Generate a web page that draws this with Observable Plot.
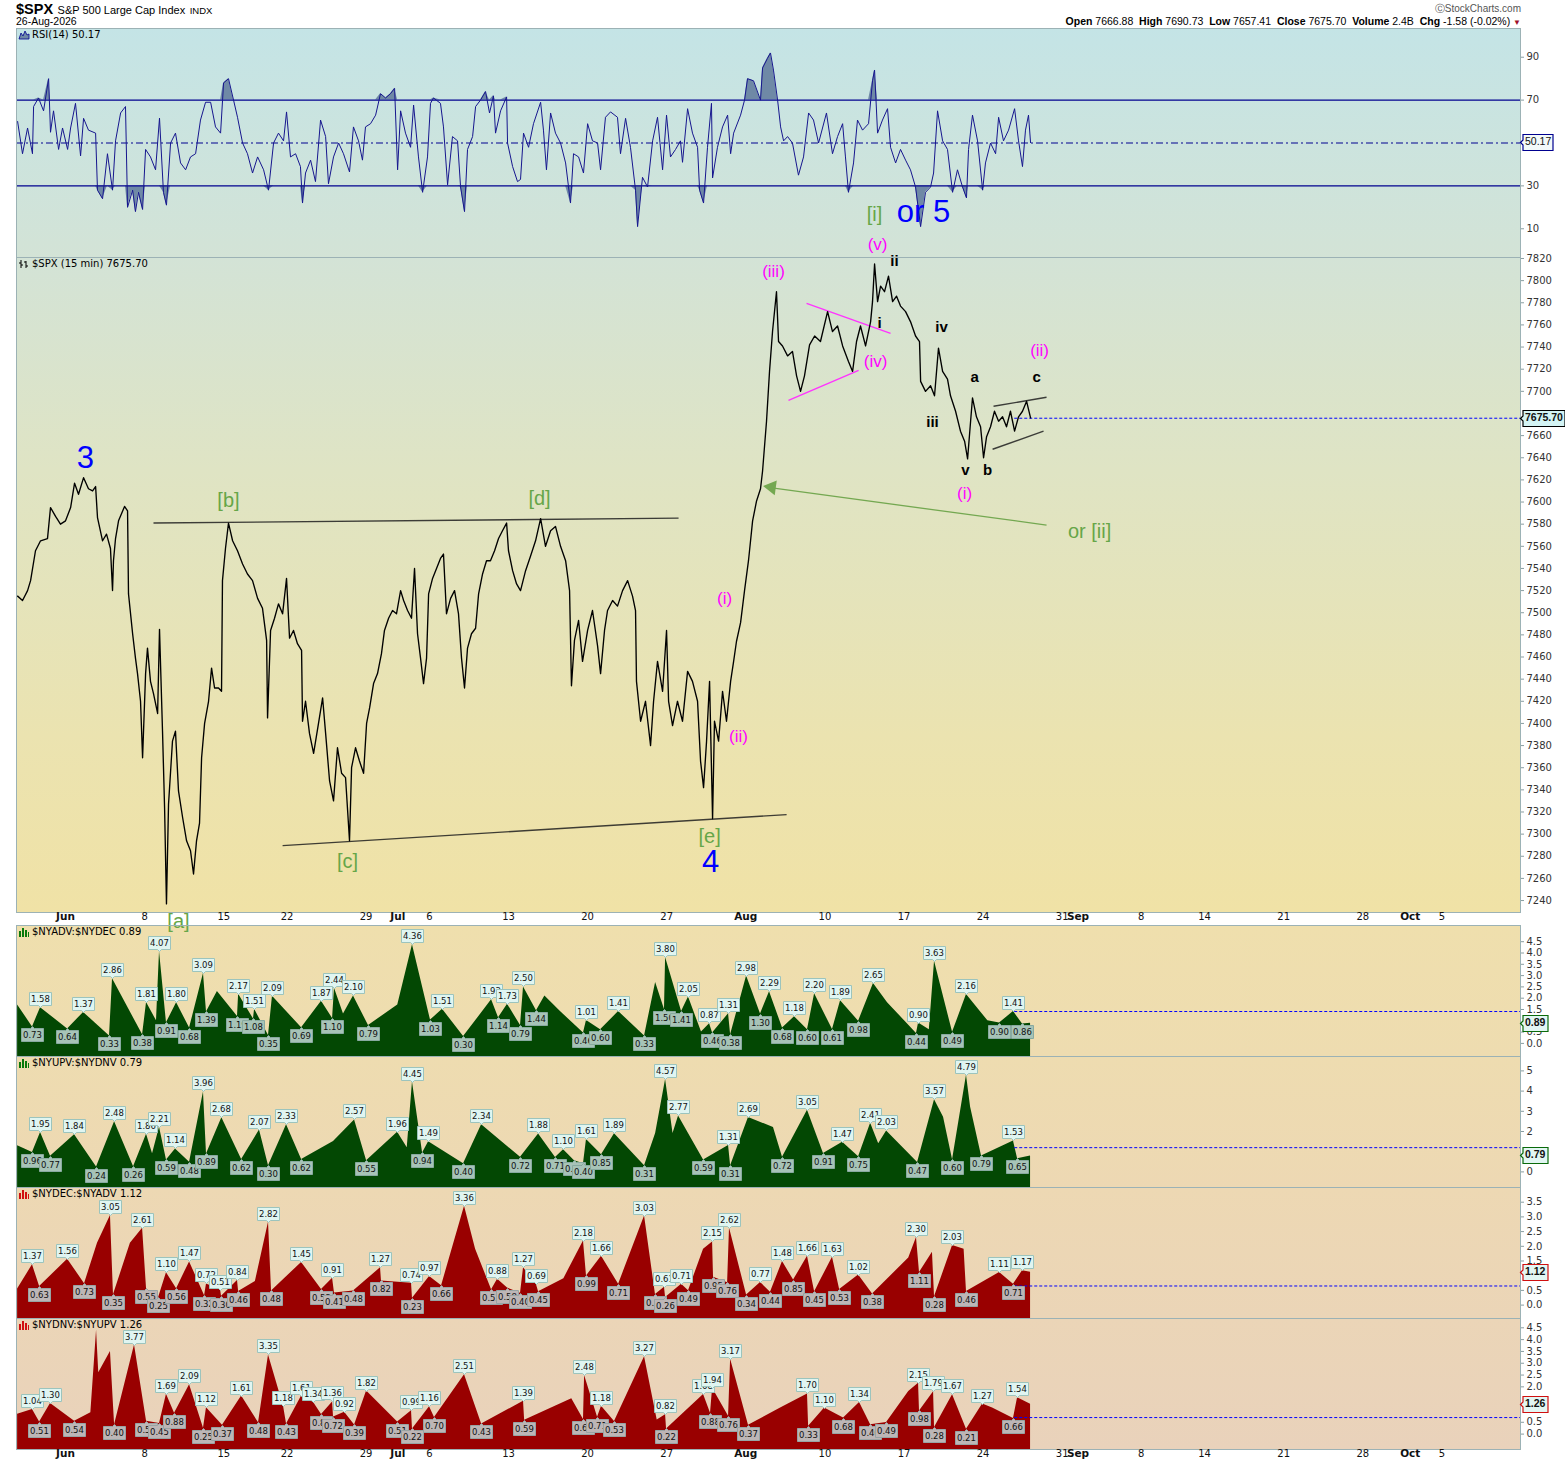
<!DOCTYPE html>
<html>
<head>
<meta charset="utf-8">
<script src="https://cdn.jsdelivr.net/npm/d3@7"></script>
<script src="https://cdn.jsdelivr.net/npm/@observablehq/plot@0.6"></script>
<style>
html,body{margin:0;padding:0;background:#fff;}
#root{position:relative;width:1565px;height:1464px;overflow:hidden;font-family:"Liberation Sans",Arial,sans-serif;color:#000;}
#root svg{overflow:visible;}
.ttl{position:absolute;font-family:"DejaVu Sans",Verdana,sans-serif;font-size:10px;white-space:nowrap;color:#000;display:flex;align-items:center;gap:3px;}
g[aria-label="tip"] text{fill:#111;}
</style>
</head>
<body>
<div id="root"></div>
<script>
// ===================== DATA =====================
// time unit: trading-day index (0 = 1 Jun 2026 open)
const tickMonths = [[0,"Jun"],[21,"Jul"],[43,"Aug"],[64,"Sep"],[85,"Oct"]];
const tickDays = [[5,"8"],[10,"15"],[14,"22"],[19,"29"],[23,"6"],[28,"13"],[33,"20"],[38,"27"],[48,"10"],[53,"17"],[58,"24"],[63,"31"],[68,"8"],[72,"14"],[77,"21"],[82,"28"],[87,"5"]];

const rsiTickLabels = [90,70,30,10];
const rsiBands = [70,30];
const rsiMid = [50];
const rsiLast = 50.17;

const priceTicks = [7240,7260,7280,7300,7320,7340,7360,7380,7400,7420,7440,7460,7480,7500,7520,7540,7560,7580,7600,7620,7640,7660,7680,7700,7720,7740,7760,7780,7800,7820];
const priceLast = 7675.70;

const adTicks = [0,0.5,1,1.5,2,2.5,3,3.5,4,4.5];
const udTicks = [0,1,2,3,4,5];
const daTicks = [0,0.5,1,1.5,2,2.5,3,3.5];
const duTicks = [0,0.5,1,1.5,2,2.5,3,3.5,4,4.5];
// tick labels hidden behind the last-value markers in the reference
const coveredTicks = {price:[7680], ad:[1], ud:[1], da:[1], du:[1,1.5]};
const lastValues = {ad:0.89, ud:0.79, da:1.12, du:1.26};
const dashLevels = {ad:1.41, ud:1.2, da:0.65, du:0.70};

const rsiSeries = [[-3.03,60],[-2.72,45],[-2.40,57],[-2.09,45],[-2.02,67],[-1.71,71],[-1.39,65],[-1.07,80],[-0.95,55],[-0.76,65],[-0.44,47],[-0.19,57],[0.13,47],[0.32,57],[0.63,68.5],[0.95,44],[1.14,61.5],[1.45,56],[1.90,54.6],[2.02,28],[2.34,24],[2.65,45],[2.97,28],[3.16,51],[3.48,64],[3.79,67],[3.92,20],[4.24,28],[4.42,18],[4.61,27],[4.87,19],[5.06,47],[5.37,43.5],[5.69,37.5],[5.94,61.6],[6.19,27],[6.38,21],[6.64,50],[6.95,54.6],[7.27,40.7],[7.59,37.5],[7.90,43.5],[8.22,45],[8.53,60.7],[8.85,69],[9.17,69],[9.48,57.5],[9.80,54.6],[9.99,78],[10.30,80],[10.62,70],[10.87,62],[11.19,50],[11.50,45],[11.82,36],[12.14,43.5],[12.52,37.5],[12.83,28],[13.15,50],[13.46,54.6],[13.78,51],[13.97,64.5],[14.22,43.5],[14.54,45],[14.85,39],[14.98,22],[15.17,36],[15.49,42],[15.80,32],[16.12,60.7],[16.44,53],[16.62,31],[16.94,43.5],[17.26,50],[17.57,45],[17.95,36.5],[18.20,57.5],[18.52,51],[18.77,42],[18.96,57.5],[19.28,59],[19.60,63],[19.91,73],[20.23,71],[20.54,73],[20.80,75.5],[20.99,37.5],[21.18,65],[21.49,54.6],[21.81,48],[22.00,67.7],[22.31,43.5],[22.57,27],[22.88,43.5],[23.07,68.5],[23.26,71],[23.70,68.5],[23.89,57.5],[24.15,30.5],[24.46,53],[24.78,51],[24.97,29.5],[25.22,18],[25.41,47],[25.73,53],[25.92,67],[26.23,70],[26.55,74],[26.80,64],[27.05,72],[27.18,54.6],[27.50,65],[27.88,71.5],[27.94,50],[28.26,39],[28.57,32],[28.76,33],[28.95,54.6],[29.27,48],[29.58,59],[30.03,69],[30.21,56],[30.40,37.5],[30.66,64],[30.97,54.6],[31.29,50],[31.61,40.7],[31.92,22],[32.11,45],[32.43,43.5],[32.74,36],[33.00,59],[33.31,51],[33.63,50],[33.82,37.5],[34.13,62],[34.45,64.5],[34.89,62],[35.08,45],[35.40,61.5],[35.71,48],[36.03,28],[36.16,11],[36.47,34],[36.79,29.5],[37.11,51],[37.42,62],[37.74,37.5],[37.99,63],[38.24,43.5],[38.56,47],[38.87,51],[39.00,41],[39.32,66],[39.63,54.6],[39.95,48],[40.08,28],[40.33,22],[40.58,48],[40.83,68.5],[40.90,33.7],[41.21,48],[41.53,57.5],[41.85,63],[42.04,45],[42.23,54.6],[42.67,63],[42.92,70],[43.11,80],[43.49,79],[43.93,70],[44.06,85],[44.37,89.5],[44.56,92],[44.75,84],[45.01,70],[45.20,57.5],[45.39,51],[45.64,53],[45.95,50],[46.33,35],[46.65,43.5],[46.97,64],[47.28,60.7],[47.60,50],[48.10,64],[48.48,45],[48.80,53],[49.12,59],[49.30,43.5],[49.49,27],[49.81,40.7],[50.06,60.7],[50.38,56],[50.76,59],[51.01,79],[51.14,84],[51.33,54.6],[51.64,60.7],[51.96,66],[52.15,48],[52.47,40.7],[52.78,47],[53.10,42],[53.41,37.5],[53.73,29.5],[54.05,11],[54.36,27],[54.68,29.5],[54.87,36],[55.12,65],[55.44,51],[55.75,47],[56.07,27],[56.38,37.5],[56.70,29.5],[56.95,24.4],[57.08,47],[57.33,63],[57.65,51],[57.97,28],[58.15,40.7],[58.47,50],[58.79,45],[58.98,62],[59.29,51],[59.61,56],[59.99,66],[60.24,51],[60.49,39],[60.68,56],[60.87,63],[61.00,50.17]];

const priceSeries = [[-3.03,7515],[-2.72,7511],[-2.40,7520],[-2.21,7529],[-1.90,7556],[-1.58,7565],[-1.14,7567],[-0.95,7595],[-0.63,7587],[-0.32,7580],[0,7583],[0.32,7595],[0.57,7617],[0.82,7607],[1.14,7622],[1.45,7612],[1.71,7610],[1.90,7614],[2.02,7586],[2.34,7565],[2.59,7571],[2.84,7558],[2.97,7520],[3.03,7547],[3.16,7567],[3.35,7583],[3.73,7596],[3.92,7592],[3.98,7517],[4.24,7481],[4.42,7459],[4.55,7445],[4.74,7420],[4.87,7369],[5.06,7445],[5.18,7468],[5.37,7438],[5.56,7427],[5.82,7409],[5.94,7485],[6.13,7393],[6.26,7324],[6.38,7237],[6.51,7327],[6.76,7384],[6.95,7393],[7.14,7339],[7.40,7315],[7.65,7294],[7.90,7285],[8.09,7264],[8.28,7294],[8.47,7310],[8.60,7369],[8.79,7400],[9.04,7420],[9.23,7450],[9.42,7432],[9.67,7432],[9.86,7429],[9.92,7529],[10.11,7558],[10.30,7581],[10.56,7565],[10.87,7556],[11.19,7544],[11.50,7535],[11.82,7529],[12.14,7513],[12.45,7504],[12.71,7475],[12.77,7405],[12.96,7484],[13.21,7495],[13.46,7508],[13.72,7499],[13.97,7531],[14.16,7477],[14.41,7484],[14.66,7472],[14.92,7466],[14.98,7402],[15.17,7420],[15.42,7391],[15.68,7373],[15.99,7400],[16.25,7423],[16.44,7391],[16.69,7348],[16.94,7330],[17.19,7378],[17.45,7355],[17.70,7351],[17.95,7294],[18.08,7360],[18.33,7378],[18.58,7366],[18.84,7355],[19.03,7400],[19.22,7414],[19.47,7436],[19.72,7445],[19.97,7463],[20.16,7484],[20.42,7495],[20.67,7502],[20.92,7499],[21.18,7520],[21.37,7511],[21.62,7502],[21.87,7495],[22.06,7540],[22.25,7481],[22.44,7459],[22.63,7436],[22.82,7459],[22.95,7517],[23.20,7531],[23.45,7540],[23.70,7549],[23.89,7553],[24.08,7499],[24.34,7513],[24.59,7520],[24.84,7499],[25.03,7459],[25.22,7432],[25.41,7468],[25.66,7481],[25.92,7486],[26.11,7517],[26.36,7535],[26.61,7547],[26.86,7547],[27.12,7556],[27.37,7567],[27.62,7574],[27.88,7581],[28.00,7556],[28.26,7538],[28.51,7526],[28.76,7520],[29.08,7538],[29.39,7551],[29.71,7565],[30.03,7585],[30.34,7560],[30.66,7574],[30.97,7578],[31.29,7560],[31.61,7547],[31.86,7520],[31.98,7434],[32.17,7475],[32.43,7493],[32.68,7456],[33.00,7484],[33.31,7502],[33.63,7470],[33.82,7445],[34.07,7484],[34.26,7502],[34.58,7511],[34.89,7506],[35.21,7520],[35.53,7529],[35.84,7515],[36.03,7502],[36.09,7438],[36.35,7402],[36.66,7420],[36.98,7380],[37.17,7420],[37.42,7456],[37.74,7429],[37.99,7484],[38.12,7420],[38.37,7398],[38.68,7420],[39.00,7402],[39.32,7447],[39.63,7438],[39.95,7420],[40.14,7366],[40.33,7342],[40.52,7384],[40.71,7438],[40.90,7314],[41.02,7402],[41.28,7384],[41.53,7429],[41.78,7402],[42.04,7438],[42.23,7456],[42.41,7474],[42.67,7491],[42.92,7520],[43.17,7547],[43.43,7583],[43.68,7601],[43.93,7612],[44.06,7628],[44.31,7673],[44.50,7718],[44.69,7754],[44.94,7790],[45.07,7745],[45.32,7741],[45.64,7732],[45.95,7736],[46.21,7714],[46.46,7700],[46.71,7714],[47.03,7742],[47.35,7750],[47.72,7745],[48.17,7772],[48.48,7754],[48.80,7759],[49.12,7741],[49.49,7727],[49.75,7718],[50.00,7745],[50.25,7759],[50.57,7741],[50.89,7763],[51.01,7781],[51.14,7815],[51.33,7781],[51.52,7795],[51.77,7790],[52.02,7804],[52.28,7781],[52.53,7786],[52.78,7777],[53.10,7772],[53.41,7763],[53.73,7750],[53.98,7745],[54.05,7709],[54.36,7700],[54.68,7705],[54.93,7696],[55.18,7739],[55.44,7718],[55.75,7711],[55.94,7696],[56.26,7682],[56.57,7664],[56.83,7655],[57.02,7639],[57.21,7673],[57.33,7694],[57.58,7677],[57.84,7668],[58.03,7640],[58.22,7659],[58.47,7668],[58.72,7682],[58.98,7673],[59.23,7677],[59.48,7668],[59.73,7682],[59.99,7664],[60.24,7677],[60.49,7682],[60.75,7691],[61.00,7676]];

// breadth series: [t, value, kind]  kind 1 = labelled peak, -1 = labelled trough, 0 = plain point
const adSeries = [[-3.03,1.70,0],[-2.09,0.73,-1],[-1.58,1.58,1],[0.13,0.64,-1],[1.14,1.37,1],[2.78,0.33,-1],[2.97,2.86,1],[4.87,0.38,-1],[5.12,1.81,1],[5.75,1.0,0],[5.94,4.07,1],[6.38,0.91,-1],[7.02,1.80,1],[7.84,0.68,-1],[8.72,3.09,1],[8.91,1.39,-1],[9.6,2.3,0],[10.87,1.19,-1],[10.94,2.17,1],[11.88,1.08,-1],[11.95,1.51,1],[12.83,0.35,-1],[13.08,2.09,1],[14.92,0.69,-1],[16.18,1.87,1],[16.88,1.10,-1],[17.00,2.44,1],[17.57,1.3,0],[18.20,2.10,1],[19.15,0.79,-1],[21.0,1.7,0],[21.93,4.36,1],[23.07,1.03,-1],[23.83,1.51,1],[25.16,0.30,-1],[26.93,1.93,1],[27.37,1.14,-1],[27.94,1.73,1],[28.76,0.79,-1],[28.95,2.50,1],[29.77,1.44,-1],[30.3,2.1,0],[31.3,1.4,0],[32.74,0.46,-1],[32.93,1.01,1],[33.82,0.60,-1],[34.96,1.41,1],[36.60,0.33,-1],[37.3,2.7,0],[37.86,1.50,-1],[37.93,3.80,1],[38.94,1.41,-1],[39.38,2.05,1],[40.2,0.5,0],[40.71,0.87,1],[40.90,0.46,-1],[41.91,1.31,1],[42.04,0.38,-1],[43.05,2.98,1],[43.93,1.30,-1],[44.50,2.29,1],[45.32,0.68,-1],[46.08,1.18,1],[46.90,0.60,-1],[47.35,2.20,1],[48.48,0.61,-1],[48.99,1.89,1],[50.13,0.98,-1],[51.07,2.65,1],[51.96,1.8,0],[53.79,0.44,-1],[53.92,0.90,1],[54.6,0.6,0],[54.93,3.63,1],[56.07,0.49,-1],[56.95,2.16,1],[58.3,1.0,0],[59.04,0.90,-1],[59.92,1.41,1],[60.49,0.86,-1],[61.00,0.89,0]];

const udSeries = [[-3.03,1.3,0],[-2.09,0.96,-1],[-1.58,1.95,1],[-0.95,0.77,-1],[0.57,1.84,1],[1.96,0.24,-1],[3.10,2.48,1],[4.30,0.26,-1],[5.12,1.86,1],[5.5,0.9,0],[5.94,2.21,1],[6.38,0.59,-1],[6.95,1.14,1],[7.84,0.48,-1],[8.72,3.96,1],[8.91,0.89,-1],[9.88,2.68,1],[11.13,0.62,-1],[12.26,2.07,1],[12.83,0.30,-1],[13.97,2.33,1],[14.92,0.62,-1],[16.94,1.5,0],[18.27,2.57,1],[19.03,0.55,-1],[20.99,1.96,1],[21.6,1.2,0],[21.93,4.45,1],[22.57,0.94,-1],[22.95,1.49,1],[25.16,0.40,-1],[26.30,2.34,1],[28.76,0.72,-1],[29.90,1.88,1],[30.97,0.71,-1],[31.48,1.10,1],[32.17,0.55,-1],[32.74,0.40,-1],[32.93,1.61,1],[33.88,0.85,-1],[34.70,1.89,1],[36.60,0.31,-1],[37.3,1.9,0],[37.93,4.57,1],[38.4,1.9,0],[38.75,2.77,1],[40.33,0.59,-1],[41.91,1.31,1],[42.04,0.31,-1],[43.17,2.69,1],[44.75,2.2,0],[45.32,0.72,-1],[46.90,3.05,1],[47.91,0.91,-1],[49.12,1.47,1],[50.13,0.75,-1],[50.89,2.41,1],[51.4,1.4,0],[51.90,2.03,1],[53.86,0.47,-1],[54.93,3.57,1],[55.5,2.7,0],[56.07,0.60,-1],[56.95,4.79,1],[57.21,3.2,0],[57.90,0.79,-1],[59.92,1.53,1],[60.18,0.65,-1],[61.00,0.79,0]];

const daSeries = [[-3.03,0.55,0],[-2.09,1.37,1],[-1.64,0.63,-1],[0.13,1.56,1],[1.20,0.73,-1],[2.02,2.1,0],[2.84,3.05,1],[3.03,0.35,-1],[4.1,2.1,0],[4.87,2.61,1],[5.12,0.55,-1],[5.88,0.25,-1],[6.38,1.10,1],[7.02,0.56,-1],[7.84,1.47,1],[8.79,0.32,-1],[8.91,0.72,1],[9.80,0.51,1],[9.86,0.30,-1],[10.87,0.84,1],[10.94,0.46,-1],[12.0,0.8,0],[12.83,2.82,1],[13.02,0.48,-1],[14.92,1.45,1],[16.18,0.53,-1],[16.88,0.91,1],[17.00,0.41,-1],[18.20,0.48,-1],[19.91,1.27,1],[19.97,0.82,-1],[21.87,0.74,1],[21.93,0.23,-1],[23.01,0.97,1],[23.77,0.66,-1],[25.22,3.36,1],[25.92,1.9,0],[26.93,0.52,-1],[27.31,0.88,1],[27.94,0.58,-1],[28.76,0.40,-1],[28.95,1.27,1],[29.77,0.69,1],[29.90,0.45,-1],[31.5,0.9,0],[32.74,2.18,1],[32.93,0.99,-1],[33.88,1.66,1],[34.96,0.71,-1],[36.60,3.03,1],[37.29,0.36,-1],[37.86,0.61,1],[37.93,0.26,-1],[38.94,0.71,1],[39.38,0.49,-1],[40.33,1.9,0],[40.90,2.15,1],[40.96,0.95,-1],[41.85,0.76,-1],[41.97,2.62,1],[43.05,0.34,-1],[43.93,0.77,1],[44.56,0.44,-1],[45.32,1.48,1],[46.02,0.85,-1],[46.90,1.66,1],[47.35,0.45,-1],[48.48,1.63,1],[48.93,0.53,-1],[50.13,1.02,1],[51.01,0.38,-1],[53.3,1.6,0],[53.79,2.30,1],[53.98,1.11,-1],[54.8,1.8,0],[54.93,0.28,-1],[56.07,2.03,1],[56.8,1.9,0],[56.95,0.46,-1],[59.04,1.11,1],[59.92,0.71,-1],[60.49,1.17,1],[61.00,1.12,0]];

const duSeries = [[-3.03,0.84,0],[-2.09,1.04,1],[-1.64,0.51,-1],[-0.95,1.30,1],[0.57,0.54,-1],[1.6,0.9,0],[1.96,4.4,0],[2.1,2.6,0],[2.84,3.5,0],[3.10,0.40,-1],[4.36,3.77,1],[5.12,0.54,-1],[5.94,0.45,-1],[6.38,1.69,1],[6.89,0.88,-1],[7.84,2.09,1],[8.72,0.25,-1],[8.91,1.12,1],[9.92,0.37,-1],[11.13,1.61,1],[12.20,0.48,-1],[12.83,3.35,1],[13.78,1.18,1],[13.97,0.43,-1],[14.92,1.61,1],[15.68,1.34,1],[16.18,0.83,-1],[16.88,1.36,1],[16.94,0.72,-1],[17.64,0.92,1],[18.27,0.39,-1],[19.03,1.82,1],[20.99,0.51,-1],[21.87,0.99,1],[21.93,0.22,-1],[23.01,1.16,1],[23.32,0.70,-1],[25.22,2.51,1],[26.30,0.43,-1],[28.95,1.39,1],[29.02,0.59,-1],[32.0,1.5,0],[32.74,0.62,-1],[32.81,2.48,1],[33.63,0.71,-1],[33.88,1.18,1],[34.70,0.53,-1],[36.60,3.27,1],[37.4,0.6,0],[37.93,0.82,1],[37.99,0.22,-1],[40.33,1.68,1],[40.77,0.88,-1],[40.90,1.94,1],[41.91,0.76,-1],[42.04,3.17,1],[43.17,0.37,-1],[45.2,1.1,0],[46.90,1.70,1],[46.97,0.33,-1],[47.98,1.10,1],[49.18,0.68,-1],[50.19,1.34,1],[50.89,0.40,-1],[51.90,0.49,-1],[53.3,1.8,0],[53.92,2.15,1],[53.98,0.98,-1],[54.87,1.79,1],[54.93,0.28,-1],[56.07,1.67,1],[56.95,0.21,-1],[57.97,1.27,1],[58.6,1.1,0],[59.92,0.66,-1],[60.18,1.54,1],[61.00,1.26,0]];

// wave annotations: [t, price, text]
const blueLabels = [[1.26,7640,"3"],[40.77,7275,"4"],[54.23,7862,"or 5"]];
const greenLabels = [[10.30,7601,"[b]"],[29.96,7603.5,"[d]"],[17.83,7275,"[c]"],[7.14,7221,"[a]"],[40.71,7298,"[e]"],[51.14,7860,"[i]"],[64.73,7573,"or [ii]"]];
const magentaLabels = [[41.66,7513,"(i)"],[42.54,7388,"(ii)"],[44.75,7808,"(iii)"],[51.20,7727,"(iv)"],[51.33,7833,"(v)"],[56.83,7608,"(i)"],[61.57,7737,"(ii)"]];
const blackLabels = [[51.45,7762,"i"],[52.40,7818,"ii"],[54.80,7672,"iii"],[55.37,7758,"iv"],[56.89,7629,"v"],[57.46,7713,"a"],[58.28,7629,"b"],[61.38,7713,"c"]];
// trend lines: [t1, p1, t2, p2]
const blackLines = [[5.56,7581,38.75,7585.5],[13.72,7289.6,45.58,7317.6],[58.66,7686.5,62.01,7694.6],[58.60,7647.7,61.82,7664.0]];
const magentaLines = [[46.84,7779.4,52.15,7752.3],[45.70,7691.9,50.13,7719.0]];
const greenArrow = [[62.01,7579.2,44.31,7613.4]];

// ===================== RENDER =====================
const root = document.getElementById("root");
const xDom = [-3.10, 91.97];
const dashStartT = 60.0;
const AX = "DejaVu Sans, Verdana, sans-serif";
const SANS = "Liberation Sans, Arial, sans-serif";
const FRAME = "#9cb2b5";

function addDiv(html, css){ const d=document.createElement("div"); d.innerHTML=html; d.style.cssText=css; root.appendChild(d); return d; }
function place(svg, top){ svg.style.position="absolute"; svg.style.left="0px"; svg.style.top=top+"px"; root.appendChild(svg); }
function basePlot(h, mb, yDom, marks){
  return Plot.plot({width:1565, height:h+mb, marginLeft:16, marginRight:45, marginTop:0, marginBottom:mb,
    x:{domain:xDom, axis:null}, y:{domain:yDom, axis:null},
    style:{background:"transparent", overflow:"visible", color:"#111", fontFamily:AX, fontSize:"10px"},
    marks});
}
function marker(text, value, fill, stroke, bold){
  return Plot.tip([value], {x: () => xDom[1], y: d => d, title: () => text, anchor:"left", pointerSize:5, textPadding:2,
    fontSize:10.5, fontWeight: bold ? "bold" : "normal", fontFamily:SANS, fill, stroke, strokeWidth:1.2, pathFilter:"none"});
}
function yAxis(ticks, fmt){
  return Plot.axisY({anchor:"right", ticks, tickSize:3, tickPadding:3, fontSize:10, fill:"#333", stroke:"#8a9ea2", tickFormat:fmt, label:null});
}
function xAxisMarks(){
  return [
    Plot.text(tickMonths, {x:d=>d[0], text:d=>d[1], frameAnchor:"bottom", dy:7, fontWeight:"bold", fontSize:10.5, fontFamily:AX, fill:"#111"}),
    Plot.text(tickDays, {x:d=>d[0], text:d=>d[1], frameAnchor:"bottom", dy:7, fontSize:10, fontFamily:AX, fill:"#111"})
  ];
}

// backgrounds
addDiv("", "position:absolute;left:16px;top:28px;width:1504px;height:884px;background:linear-gradient(to bottom,#c4e4e6 0%,#d3e3d6 26%,#dfe4c4 50%,#ebe3b0 80%,#f0e2a6 100%);");
addDiv("", "position:absolute;left:16px;top:925px;width:1504px;height:524px;background:linear-gradient(to bottom,#efdfad 0%,#eedcb0 25%,#edd8b3 50%,#ebd5b7 75%,#e9d2bb 100%);");

// header
addDiv('<b style="font-size:14.5px">$SPX</b> <span style="font-size:11px">S&amp;P 500 Large Cap Index</span> <span style="font-size:9.5px">INDX</span>', "position:absolute;left:16px;top:0px;white-space:nowrap;");
addDiv("26-Aug-2026", "position:absolute;left:16px;top:15px;font-size:10.5px;white-space:nowrap;");
addDiv("&#9400;StockCharts.com", "position:absolute;right:44px;top:2px;font-size:10px;color:#555;white-space:nowrap;");
addDiv('<b>Open</b> 7666.88&nbsp; <b>High</b> 7690.73&nbsp; <b>Low</b> 7657.41&nbsp; <b>Close</b> 7675.70&nbsp; <b>Volume</b> 2.4B&nbsp; <b>Chg</b> -1.58 (-0.02%) <span style="color:#a0102a;font-size:8px">&#9660;</span>', "position:absolute;right:44px;top:15px;font-size:10.5px;white-space:nowrap;");

// RSI panel
const rsiObj = rsiSeries.map(([t,v]) => ({t, v}));
place(basePlot(229, 0, [-3.4, 103.4], [
  Plot.areaY(rsiObj, {x:"t", y1:70, y2:d=>Math.max(70,d.v), fill:"#6f89a6"}),
  Plot.areaY(rsiObj, {x:"t", y1:30, y2:d=>Math.min(30,d.v), fill:"#6f89a6"}),
  Plot.ruleY(rsiBands, {stroke:"#00008f", strokeWidth:1.3}),
  Plot.ruleY(rsiMid, {stroke:"#00008f", strokeWidth:1, strokeDasharray:"7,3,2,3"}),
  Plot.line(rsiObj, {x:"t", y:"v", stroke:"#16168e", strokeWidth:1}),
  Plot.frame({stroke:FRAME}),
  yAxis(rsiTickLabels, d => String(d)),
  marker(rsiLast.toFixed(2), rsiLast, "#f2f9f9", "#00008f", false)
]), 28);

// Price panel
const priceObj = priceSeries.map(([t,p]) => ({t, p}));
const L = () => ({x1:d=>d[0], y1:d=>d[1], x2:d=>d[2], y2:d=>d[3]});
const T = {x:d=>d[0], y:d=>d[1], text:d=>d[2], fontFamily:SANS};
place(basePlot(655, 13, [7229.2, 7820.9], [
  Plot.ruleY([priceLast], {y:d=>d, x1:dashStartT, x2:xDom[1], stroke:"#0000ff", strokeDasharray:"3,2"}),
  Plot.link(blackLines, {...L(), stroke:"#1e1e1e", strokeWidth:1.4, strokeOpacity:0.85}),
  Plot.link(magentaLines, {...L(), stroke:"#ff33ff", strokeWidth:1.4}),
  Plot.link(greenArrow, {...L(), stroke:"#74a851", strokeWidth:1.3}),
  Plot.dot(greenArrow, {x:d=>d[2], y:d=>d[3], symbol:"triangle", r:5.5, fill:"#74a851", rotate:-82, dx:5}),
  Plot.line(priceObj, {x:"t", y:"p", stroke:"#000", strokeWidth:1.35}),
  Plot.text(blueLabels, {...T, fill:"#0000ff", fontSize:31}),
  Plot.text(greenLabels, {...T, fill:"#66a648", fontSize:20}),
  Plot.text(magentaLabels, {...T, fill:"#ff00ff", fontSize:17}),
  Plot.text(blackLabels, {...T, fill:"#000", fontSize:15, fontWeight:"bold"}),
  Plot.frame({stroke:FRAME}),
  yAxis(priceTicks.filter(t => !coveredTicks.price.includes(t)), d => String(d)),
  marker(priceLast.toFixed(2), priceLast, "#d4f4f4", "#000", true),
  ...xAxisMarks()
]), 257);

// Breadth panels
function breadth(series, yDom, ticks, covered, fmt, areaFill, lowFill, lowStroke, last, lastStroke, dash, mb){
  const peaks = series.filter(d => d[2] === 1);
  const lows = series.filter(d => d[2] === -1);
  const tipBase = {x:d=>d[0], y:d=>d[1], title:d=>d[1].toFixed(2), pointerSize:4, textPadding:1.5, fontSize:8.5, fontFamily:AX, pathFilter:"none", strokeWidth:1};
  return basePlot(131, mb, yDom, [
    Plot.areaY(series, {x:d=>d[0], y1:yDom[0], y2:d=>d[1], fill:areaFill}),
    Plot.ruleY([dash], {y:d=>d, x1:dashStartT, x2:xDom[1], stroke:"#0000ff", strokeDasharray:"3,2"}),
    Plot.tip(lows, {...tipBase, anchor:"top", fill:lowFill, stroke:lowStroke}),
    Plot.tip(peaks, {...tipBase, anchor:"bottom", fill:"#e0f5f1", stroke:"#9cc4bd"}),
    Plot.frame({stroke:FRAME}),
    yAxis(ticks.filter(t => !covered.includes(t)), fmt),
    marker(last.toFixed(2), last, "#e2f6f3", lastStroke, true),
    ...(mb ? xAxisMarks() : [])
  ]);
}
const f1 = d => d.toFixed(1), f0 = d => String(d);
place(breadth(adSeries, [-0.58, 5.217], adTicks, coveredTicks.ad, f1, "#034803", "#a7c3b7", "#88aaa0", lastValues.ad, "#0a6a0a", dashLevels.ad, 0), 925);
place(breadth(udSeries, [-0.772, 5.713], udTicks, coveredTicks.ud, f0, "#034803", "#a7c3b7", "#88aaa0", lastValues.ud, "#0a6a0a", dashLevels.ud, 0), 1056);
place(breadth(daSeries, [-0.456, 4.0], daTicks, coveredTicks.da, f1, "#990000", "#bdb6b6", "#98a4a4", lastValues.da, "#d01010", dashLevels.da, 0), 1187);
place(breadth(duSeries, [-0.652, 4.894], duTicks, coveredTicks.du, f1, "#990000", "#bdb6b6", "#98a4a4", lastValues.du, "#d01010", dashLevels.du, 15), 1318);

// panel titles (HTML, drawn on top)
const icoRSI = '<svg width="10" height="9" style="overflow:visible"><path d="M0,9L2,3L4,6L6,1L8,5L10,4V9Z" fill="#6f89a6" stroke="#00008f" stroke-width="0.8"/></svg>';
const icoPx = '<svg width="10" height="10" style="overflow:visible"><path d="M2,1V9M0,4H2M2,6H4M7,2V9M5,3H7M7,7H9" stroke="#000" fill="none"/></svg>';
const icoBar = c => `<svg width="10" height="10" style="overflow:visible"><path d="M0,4h2v6h-2zM3,1h2v9h-2zM6,3h2v7h-2zM9,5h1v5h-1z" fill="${c}"/></svg>`;
const titles = [[icoRSI, "RSI(14) 50.17", 29],[icoPx, "$SPX (15 min) 7675.70", 258],[icoBar("#0a7a0a"), "$NYADV:$NYDEC 0.89", 926],[icoBar("#0a7a0a"), "$NYUPV:$NYDNV 0.79", 1057],[icoBar("#d01010"), "$NYDEC:$NYADV 1.12", 1188],[icoBar("#d01010"), "$NYDNV:$NYUPV 1.26", 1319]];
for (const [ico, txt, top] of titles) {
  const d = addDiv(ico + "<span>" + txt + "</span>", "");
  d.className = "ttl";
  d.style.left = "19px"; d.style.top = top + "px";
}
</script>
</body>
</html>
